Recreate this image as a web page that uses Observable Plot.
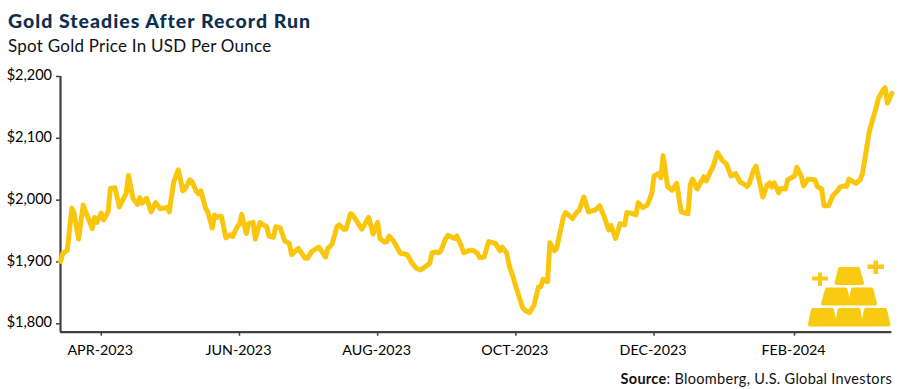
<!DOCTYPE html>
<html><head><meta charset="utf-8">
<script src="https://cdn.jsdelivr.net/npm/d3@7"></script>
<script src="https://cdn.jsdelivr.net/npm/@observablehq/plot@0.6"></script>
<style>
html,body{margin:0;padding:0;background:#fff;width:900px;height:389px;overflow:hidden;font-family:Lato,sans-serif}
#wrap{position:relative;width:900px;height:389px}
#head{height:62px;box-sizing:border-box;padding:9.500px 0 0 8px}
#t{font-weight:900;font-size:19.5px;line-height:22px;letter-spacing:1px;color:#0c2f50}
#s{font-size:17px;line-height:22px;margin-top:3px;letter-spacing:.24px;color:#111}
#c{position:absolute;right:8px;top:368.500px;font-size:14.5px;line-height:20px;letter-spacing:.3px;color:#111}
#icon{position:absolute;left:0;top:0;pointer-events:none}
svg.plot text{fill:#111}
</style></head><body>
<div id="wrap">
<div id="head"><div id="t">Gold Steadies After Record Run</div><div id="s">Spot Gold Price In USD Per Ounce</div></div>
<div id="chart"></div>
<div id="c"><b>Source</b>: Bloomberg, U.S. Global Investors</div>
<svg id="icon" width="900" height="389" fill="#f8cb12" stroke="#f8cb12" stroke-width="4" stroke-linejoin="round">
<path d="M840 269H858L862 283H836.500Z"/>
<path d="M827 289.500H845.500L848.500 303.500H823Z"/><path d="M853 289.500H871.500L875 303.500H850Z"/>
<path d="M813 310H832L835 324.500H810Z"/><path d="M839.500 310H858.500L861 324.500H837Z"/><path d="M866 310H885L888.500 324.500H863Z"/>
<path stroke="none" d="M818 272.500h4v4h6v4h-6v5.500h-4v-5.500h-6v-4h6z"/>
<path stroke="none" d="M873.500 260.500h4.500v4h6v4.500h-6v5h-4.500v-5h-6v-4.500h6z"/>
</svg>
</div>
<script>
const dates = [
"2023-03-14","2023-03-15","2023-03-17","2023-03-19","2023-03-20","2023-03-22","2023-03-24","2023-03-28","2023-03-29","2023-03-30",
"2023-04-01","2023-04-02","2023-04-04","2023-04-05","2023-04-07","2023-04-09","2023-04-12","2023-04-13","2023-04-15","2023-04-17","2023-04-18","2023-04-19","2023-04-21","2023-04-23","2023-04-25","2023-04-27","2023-04-30",
"2023-05-01","2023-05-03","2023-05-05","2023-05-07","2023-05-08","2023-05-10","2023-05-11","2023-05-13","2023-05-14","2023-05-15","2023-05-17","2023-05-18","2023-05-20","2023-05-21","2023-05-22","2023-05-24","2023-05-26","2023-05-28","2023-05-29","2023-05-31",
"2023-06-01","2023-06-02","2023-06-04","2023-06-05","2023-06-07","2023-06-08","2023-06-10","2023-06-11","2023-06-13","2023-06-14","2023-06-16","2023-06-17","2023-06-19","2023-06-21","2023-06-23","2023-06-24","2023-06-27","2023-06-30",
"2023-07-01","2023-07-03","2023-07-06","2023-07-09","2023-07-10","2023-07-11","2023-07-12","2023-07-14","2023-07-15","2023-07-17","2023-07-18","2023-07-20","2023-07-21","2023-07-25","2023-07-28","2023-07-30",
"2023-08-01","2023-08-02","2023-08-04","2023-08-05","2023-08-06","2023-08-08","2023-08-11","2023-08-14","2023-08-16","2023-08-18","2023-08-20","2023-08-23","2023-08-24","2023-08-25","2023-08-26","2023-08-28","2023-08-29","2023-08-31",
"2023-09-01","2023-09-04","2023-09-05","2023-09-07","2023-09-08","2023-09-10","2023-09-12","2023-09-14","2023-09-15","2023-09-17","2023-09-19","2023-09-22","2023-09-24","2023-09-25","2023-09-27","2023-09-28","2023-09-30",
"2023-10-01","2023-10-04","2023-10-05","2023-10-07","2023-10-09","2023-10-11","2023-10-12","2023-10-13","2023-10-15","2023-10-16","2023-10-18","2023-10-19","2023-10-22","2023-10-23","2023-10-26","2023-10-28","2023-10-29","2023-10-31",
"2023-11-02","2023-11-05","2023-11-07","2023-11-09","2023-11-11","2023-11-12","2023-11-14","2023-11-16","2023-11-18","2023-11-19","2023-11-21","2023-11-23","2023-11-24","2023-11-26","2023-11-28","2023-11-30",
"2023-12-01","2023-12-03","2023-12-04","2023-12-05","2023-12-07","2023-12-09","2023-12-11","2023-12-12","2023-12-13","2023-12-16","2023-12-17","2023-12-18","2023-12-20","2023-12-23","2023-12-24","2023-12-26","2023-12-27","2023-12-29","2023-12-31",
"2024-01-02","2024-01-04","2024-01-06","2024-01-08","2024-01-09","2024-01-11","2024-01-12","2024-01-14","2024-01-15","2024-01-18","2024-01-20","2024-01-21","2024-01-22","2024-01-23","2024-01-25","2024-01-26","2024-01-28","2024-01-29",
"2024-02-01","2024-02-02","2024-02-04","2024-02-05","2024-02-07","2024-02-10","2024-02-11","2024-02-13","2024-02-14","2024-02-16","2024-02-18","2024-02-20","2024-02-21","2024-02-23","2024-02-24","2024-02-25","2024-02-28",
"2024-03-01","2024-03-02","2024-03-05","2024-03-06","2024-03-08","2024-03-09","2024-03-11","2024-03-12","2024-03-13","2024-03-15"
];
const prices = [
1901,1914,1919,1987,1979,1937,1992,1954,1972,1964,
1979,1968,1981,2019,2020,1989,2011,2040,2003,1993,2004,1995,2003,1981,1996,1986,1988,
1981,2030,2049,2015,2018,2033,2030,2014,2010,2015,1987,1981,1955,1976,1972,1974,1939,1944,1941,1957,
1961,1977,1946,1962,1964,1937,1964,1961,1957,1942,1940,1957,1955,1934,1930,1912,1922,1906,
1906,1917,1924,1908,1922,1925,1930,1957,1960,1953,1953,1978,1976,1953,1972,1945,
1964,1938,1932,1933,1942,1934,1914,1912,1899,1890,1887,1895,1898,1915,1916,1915,1919,1938,
1943,1938,1942,1925,1915,1918,1919,1914,1907,1908,1933,1930,1918,1924,1914,1895,1873,
1860,1826,1822,1818,1830,1860,1860,1872,1868,1931,1918,1922,1973,1980,1970,1981,1984,2005,
1981,1984,1991,1973,1952,1959,1938,1962,1960,1980,1979,1976,1996,1988,1992,2011,
2039,2043,2036,2072,2022,2016,2027,2003,1981,1978,2025,2034,2018,2038,2031,2047,2054,2077,2065,
2058,2039,2043,2029,2028,2022,2027,2049,2055,2005,2025,2028,2021,2028,2012,2019,2018,2033,
2039,2053,2038,2023,2034,2033,2022,2018,1991,1991,2008,2015,2021,2023,2022,2034,2027,
2033,2043,2111,2124,2149,2164,2178,2182,2157,2173
];
const yTicks = [1800,1900,2000,2100,2200];
const xTicks = ["2023-04-01","2023-06-01","2023-08-01","2023-10-01","2023-12-01","2024-02-01"];
const xDomain = ["2023-03-14","2024-03-16"];
const axisEnd = "2024-03-15";
const yDomain = [1786.4,2200];

const p = s => new Date(s+"T00:00:00Z");
const rows = dates.map((d,i)=>({date:p(d),price:prices[i]}));
const ax = "#404040";
const yFmt = d=>"$"+d3.format(",")(d);
const xFmt = d=>d3.utcFormat("%b-%Y")(d).toUpperCase();
const chart = Plot.plot({
  width:900,height:303,marginLeft:60,marginRight:6.3,marginTop:14,marginBottom:33.3,
  style:{fontFamily:"Lato,sans-serif",background:"transparent",overflow:"visible"},
  x:{type:"utc",domain:xDomain.map(p)},
  y:{domain:yDomain},
  marks:[
    Plot.axisY({ticks:yTicks,tickFormat:()=>"",tickSize:4,stroke:ax,strokeWidth:1.5,label:null}),
    Plot.axisY({ticks:yTicks,tickFormat:yFmt,tickSize:0,tickPadding:8.5,dy:-1,stroke:"none",fontSize:14.5,label:null}),
    Plot.axisX({ticks:xTicks.map(p),tickFormat:()=>"",tickSize:4,stroke:ax,strokeWidth:1.5,label:null}),
    Plot.axisX({ticks:xTicks.map(p),tickFormat:xFmt,tickSize:0,tickPadding:13,dx:-1,stroke:"none",fontSize:14.3,label:null}),
    Plot.ruleX([p(xDomain[0])],{y1:yDomain[0],y2:yDomain[1],stroke:ax,strokeWidth:2.2}),
    Plot.ruleY([yDomain[0]],{x1:p(xDomain[0]),x2:p(axisEnd),stroke:ax,strokeWidth:2.2}),
    Plot.line(rows,{x:"date",y:"price",stroke:"#fac60d",strokeWidth:5,strokeLinejoin:"round",strokeLinecap:"round"})
  ]
});
document.getElementById("chart").appendChild(chart);
</script>
</body></html>
